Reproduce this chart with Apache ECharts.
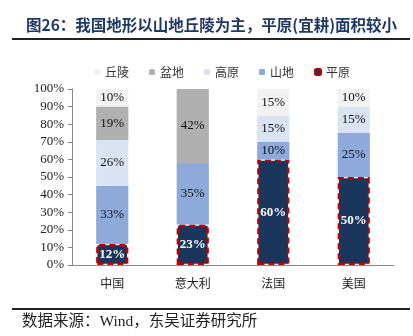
<!DOCTYPE html>
<html><head><meta charset="utf-8">
<script src="https://cdn.jsdelivr.net/npm/echarts@6/dist/echarts.min.js"></script>
<style>html,body{margin:0;padding:0;background:#fff}#c{width:413px;height:336px}</style>
</head><body><div id="c"></div>
<script>
const categories = ['中国', '意大利', '法国', '美国'];
const pingyuan = [12, 23, 60, 50];
const shandi = [33, 35, 10, 25];
const gaoyuan = [26, null, 15, 15];
const pendi = [19, 42, null, null];
const qiuling = [10, null, 15, 10];
const yTicks = [0, 10, 20, 30, 40, 50, 60, 70, 80, 90, 100];

const serif = '"Liberation Serif","Times New Roman","Noto Sans CJK SC",serif';
const lbl = { show: true, position: 'inside', formatter: '{c}%', color: '#111', fontSize: 13, fontFamily: serif };

const chart = echarts.init(document.getElementById('c'), null, { renderer: 'canvas' });
function mk(name, data, color, extra) {
  return Object.assign({
    name, type: 'bar', stack: 'all', data, barWidth: '40%',
    itemStyle: { color },
    label: lbl,
    emphasis: { disabled: true }
  }, extra || {});
}
chart.setOption({
  animation: false,
  backgroundColor: '#fff',
  title: {
    text: '图26：我国地形以山地丘陵为主，平原(宜耕)面积较小',
    left: 21, top: 12,
    textStyle: { color: '#1f3864', fontSize: 15.5, fontWeight: 'bold', fontFamily: '"Noto Sans CJK SC",sans-serif' }
  },
  graphic: [
    { type: 'rect', shape: { x: 12, y: 38, width: 398, height: 2 }, style: { fill: '#222' } },
    { type: 'rect', shape: { x: 12, y: 308, width: 398, height: 2 }, style: { fill: '#222' } },
    { type: 'text', left: 22, top: 314, style: { text: '数据来源：Wind，东吴证券研究所', fill: '#222', fontSize: 15.5, fontFamily: '"Liberation Serif","Noto Sans CJK SC",serif' } }
  ],
  legend: {
    top: 61, left: 89, itemWidth: 6, itemHeight: 6, itemGap: 20,
    textStyle: { color: '#333', fontSize: 12, fontFamily: '"Noto Sans CJK SC",sans-serif' },
    data: ['丘陵', '盆地', '高原', '山地', '平原']
  },
  grid: { left: 72, right: 19, top: 89, bottom: 71 },
  xAxis: {
    type: 'category', data: categories,
    axisLine: { lineStyle: { color: '#888' } },
    axisTick: { inside: true, length: 4, lineStyle: { color: '#888' } },
    axisLabel: { color: '#222', fontSize: 12, margin: 12, fontFamily: '"Noto Sans CJK SC",sans-serif' }
  },
  yAxis: {
    type: 'value', min: 0, max: 100, interval: 10,
    axisLine: { show: true, lineStyle: { color: '#888' } },
    axisTick: { show: true, length: 4, lineStyle: { color: '#888' } },
    splitLine: { show: false },
    axisLabel: { color: '#222', fontSize: 13, fontFamily: serif, margin: 8,
      formatter: v => yTicks.includes(v) ? v + '%' : '' }
  },
  series: [
    mk('平原', pingyuan, '#1b365d', {
      itemStyle: { color: '#1b365d', borderColor: '#c00000', borderWidth: 2.5, borderType: [6, 4] },
      label: Object.assign({}, lbl, { color: '#fff', fontWeight: 'bold' })
    }),
    mk('山地', shandi, '#8eaadb'),
    mk('高原', gaoyuan, '#dae3f3'),
    mk('盆地', pendi, '#b0b0b0'),
    mk('丘陵', qiuling, '#f2f2f2')
  ]
});
</script></body></html>
